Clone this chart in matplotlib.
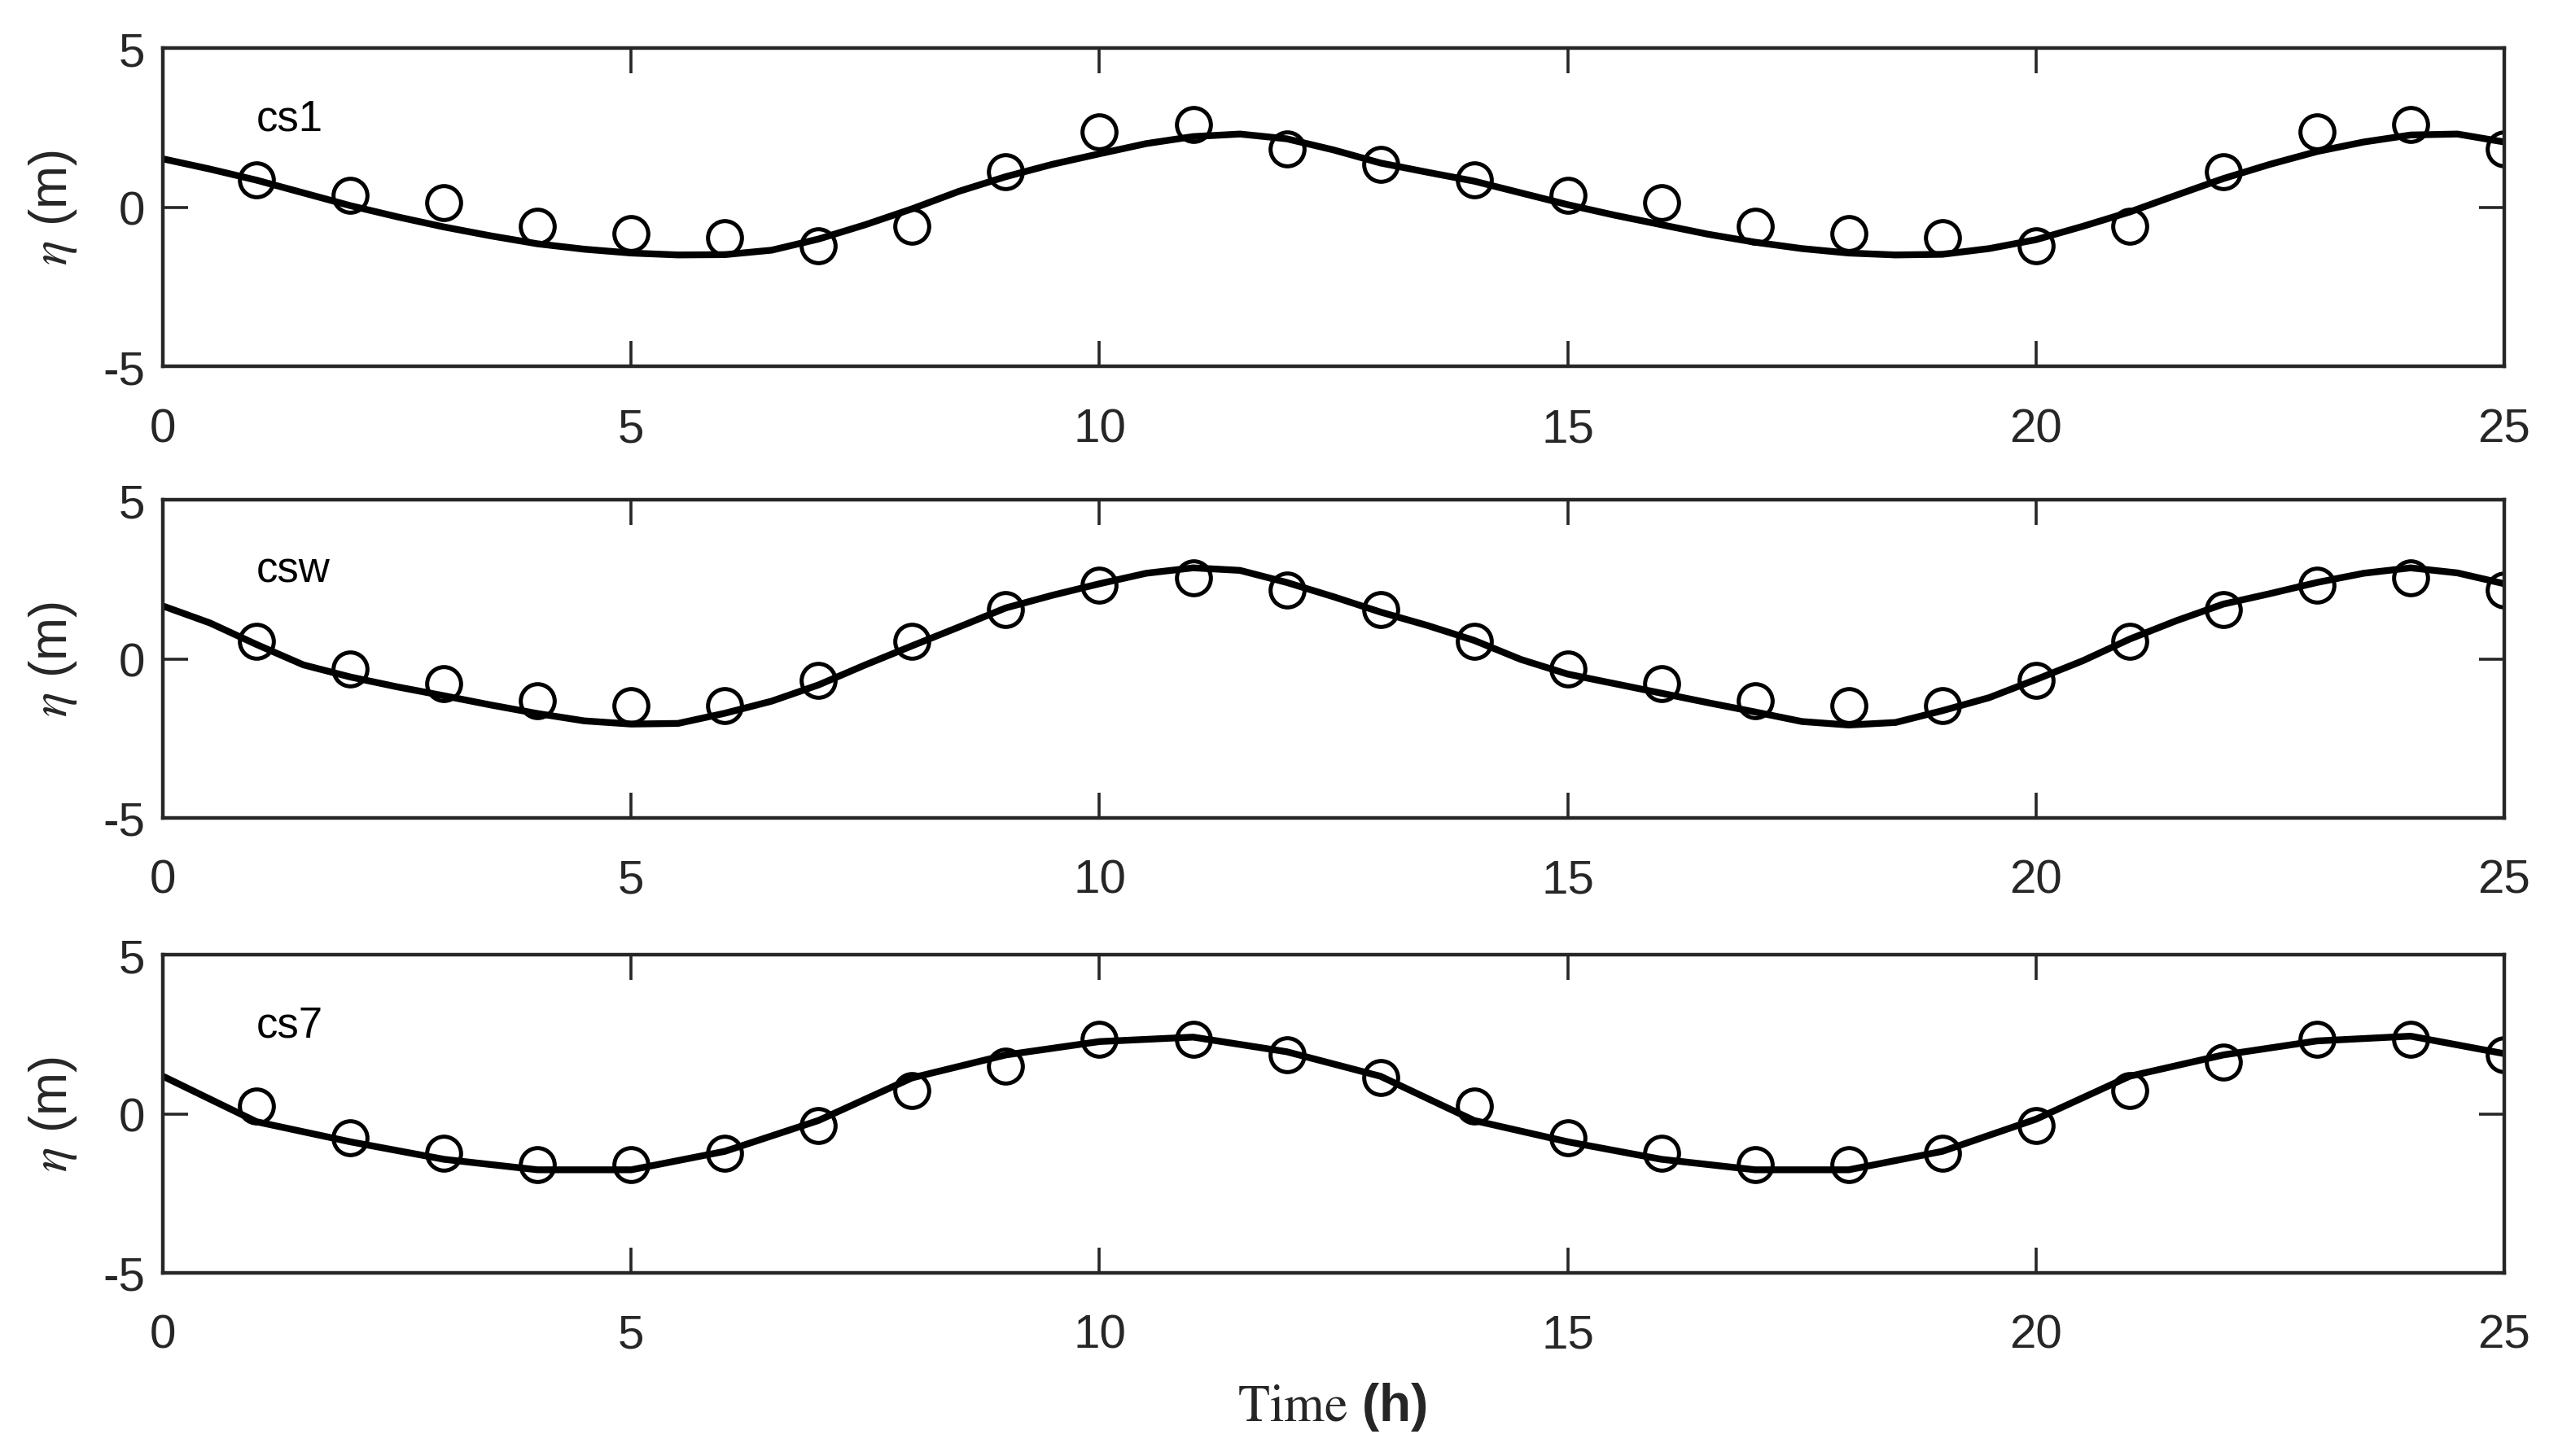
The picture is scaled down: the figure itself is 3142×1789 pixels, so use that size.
import numpy as np
import matplotlib
matplotlib.use("Agg")
import matplotlib.pyplot as plt

plt.rcParams['font.family'] = ['Liberation Sans', 'DejaVu Sans']
plt.rcParams['mathtext.fontset'] = 'stix'
plt.rcParams['axes.unicode_minus'] = False

# observed hourly values (circles)
t_obs = list(range(1, 26))
obs_cs1 = [0.87, 0.38, 0.14, -0.6, -0.82, -0.96, -1.22, -0.6, 1.12, 2.36, 2.6, 1.83, 1.35,
           0.87, 0.38, 0.14, -0.6, -0.82, -0.96, -1.22, -0.6, 1.12, 2.36, 2.6, 1.83]
obs_csw = [0.55, -0.31, -0.78, -1.31, -1.46, -1.46, -0.69, 0.55, 1.55, 2.31, 2.55, 2.16, 1.55,
           0.55, -0.31, -0.78, -1.31, -1.46, -1.46, -0.69, 0.55, 1.55, 2.31, 2.55, 2.16]
obs_cs7 = [0.25, -0.76, -1.24, -1.6, -1.6, -1.24, -0.38, 0.74, 1.49, 2.35, 2.35, 1.85, 1.13,
           0.25, -0.76, -1.24, -1.6, -1.6, -1.24, -0.38, 0.74, 1.62, 2.35, 2.35, 1.85]

# modelled series (solid lines)
t_half = np.arange(0, 25.01, 0.5)
mod_cs1 = [1.52, 1.2, 0.85, 0.45, 0.05, -0.3, -0.62, -0.9, -1.15, -1.32, -1.44, -1.5, -1.49,
           -1.35, -1.0, -0.55, -0.05, 0.5, 0.96, 1.35, 1.68, 2.0, 2.22, 2.3, 2.15, 1.8, 1.39,
           1.1, 0.82, 0.45, 0.08, -0.25, -0.55, -0.85, -1.1, -1.3, -1.44, -1.5, -1.48, -1.3,
           -1.02, -0.6, -0.15, 0.38, 0.9, 1.35, 1.75, 2.05, 2.27, 2.3, 2.05]
mod_csw = [1.66, 1.13, 0.45, -0.19, -0.57, -0.88, -1.16, -1.45, -1.72, -1.95, -2.05, -2.03, -1.71,
           -1.33, -0.82, -0.19, 0.41, 1.0, 1.6, 2.0, 2.36, 2.69, 2.86, 2.78, 2.4, 1.95, 1.47,
           1.05, 0.58, -0.02, -0.48, -0.78, -1.08, -1.38, -1.67, -1.97, -2.08, -2.0, -1.63, -1.22,
           -0.65, -0.06, 0.62, 1.2, 1.72, 2.05, 2.4, 2.69, 2.86, 2.7, 2.36]
t_hour = list(range(0, 26))
mod_cs7 = [1.18, -0.25, -0.88, -1.43, -1.76, -1.76, -1.18, -0.21, 1.13, 1.85, 2.27, 2.41, 1.95,
           1.18, -0.21, -0.88, -1.43, -1.76, -1.76, -1.18, -0.17, 1.18, 1.85, 2.29, 2.44, 1.89]

stations = ['cs1', 'csw', 'cs7']
panels = [(t_half, mod_cs1, obs_cs1), (t_half, mod_csw, obs_csw), (t_hour, mod_cs7, obs_cs7)]

fig = plt.figure(figsize=(15.71, 8.95), dpi=200)
bottoms = [0.748, 0.438, 0.1257]
axc = '#262626'

for name, (tm, mod, obs), b in zip(stations, panels, bottoms):
    ax = fig.add_axes([0.0637, b, 0.9153, 0.2184])
    ax.plot(tm, mod, color='black', lw=3.0, solid_joinstyle='round')
    ax.plot(t_obs, obs, 'o', ms=15, mfc='none', mec='black', mew=1.8)
    ax.set_xlim(0, 25)
    ax.set_ylim(-5, 5)
    ax.set_xticks([0, 5, 10, 15, 20, 25])
    ax.set_yticks([-5, 0, 5])
    ax.tick_params(direction='in', length=11, width=1.3, colors=axc, labelsize=21,
                   top=True, right=True)
    ax.tick_params(axis='x', pad=18)
    ax.tick_params(axis='y', pad=8)
    for s in ax.spines.values():
        s.set_linewidth(1.6)
        s.set_color(axc)
    ax.text(1.0, 2.8, name, fontsize=19, ha='left', va='center', color='black')
    ax.set_ylabel(r'$\eta$ (m)', fontsize=23, color=axc)
    ax.yaxis.set_label_coords(-0.036, 0.5)

fig.text(0.521, 0.034, r'$\mathrm{Time}$ (h)', fontsize=23, ha='center', va='center',
         color=axc, fontweight='bold')

fig.savefig('out.png', dpi=200)
